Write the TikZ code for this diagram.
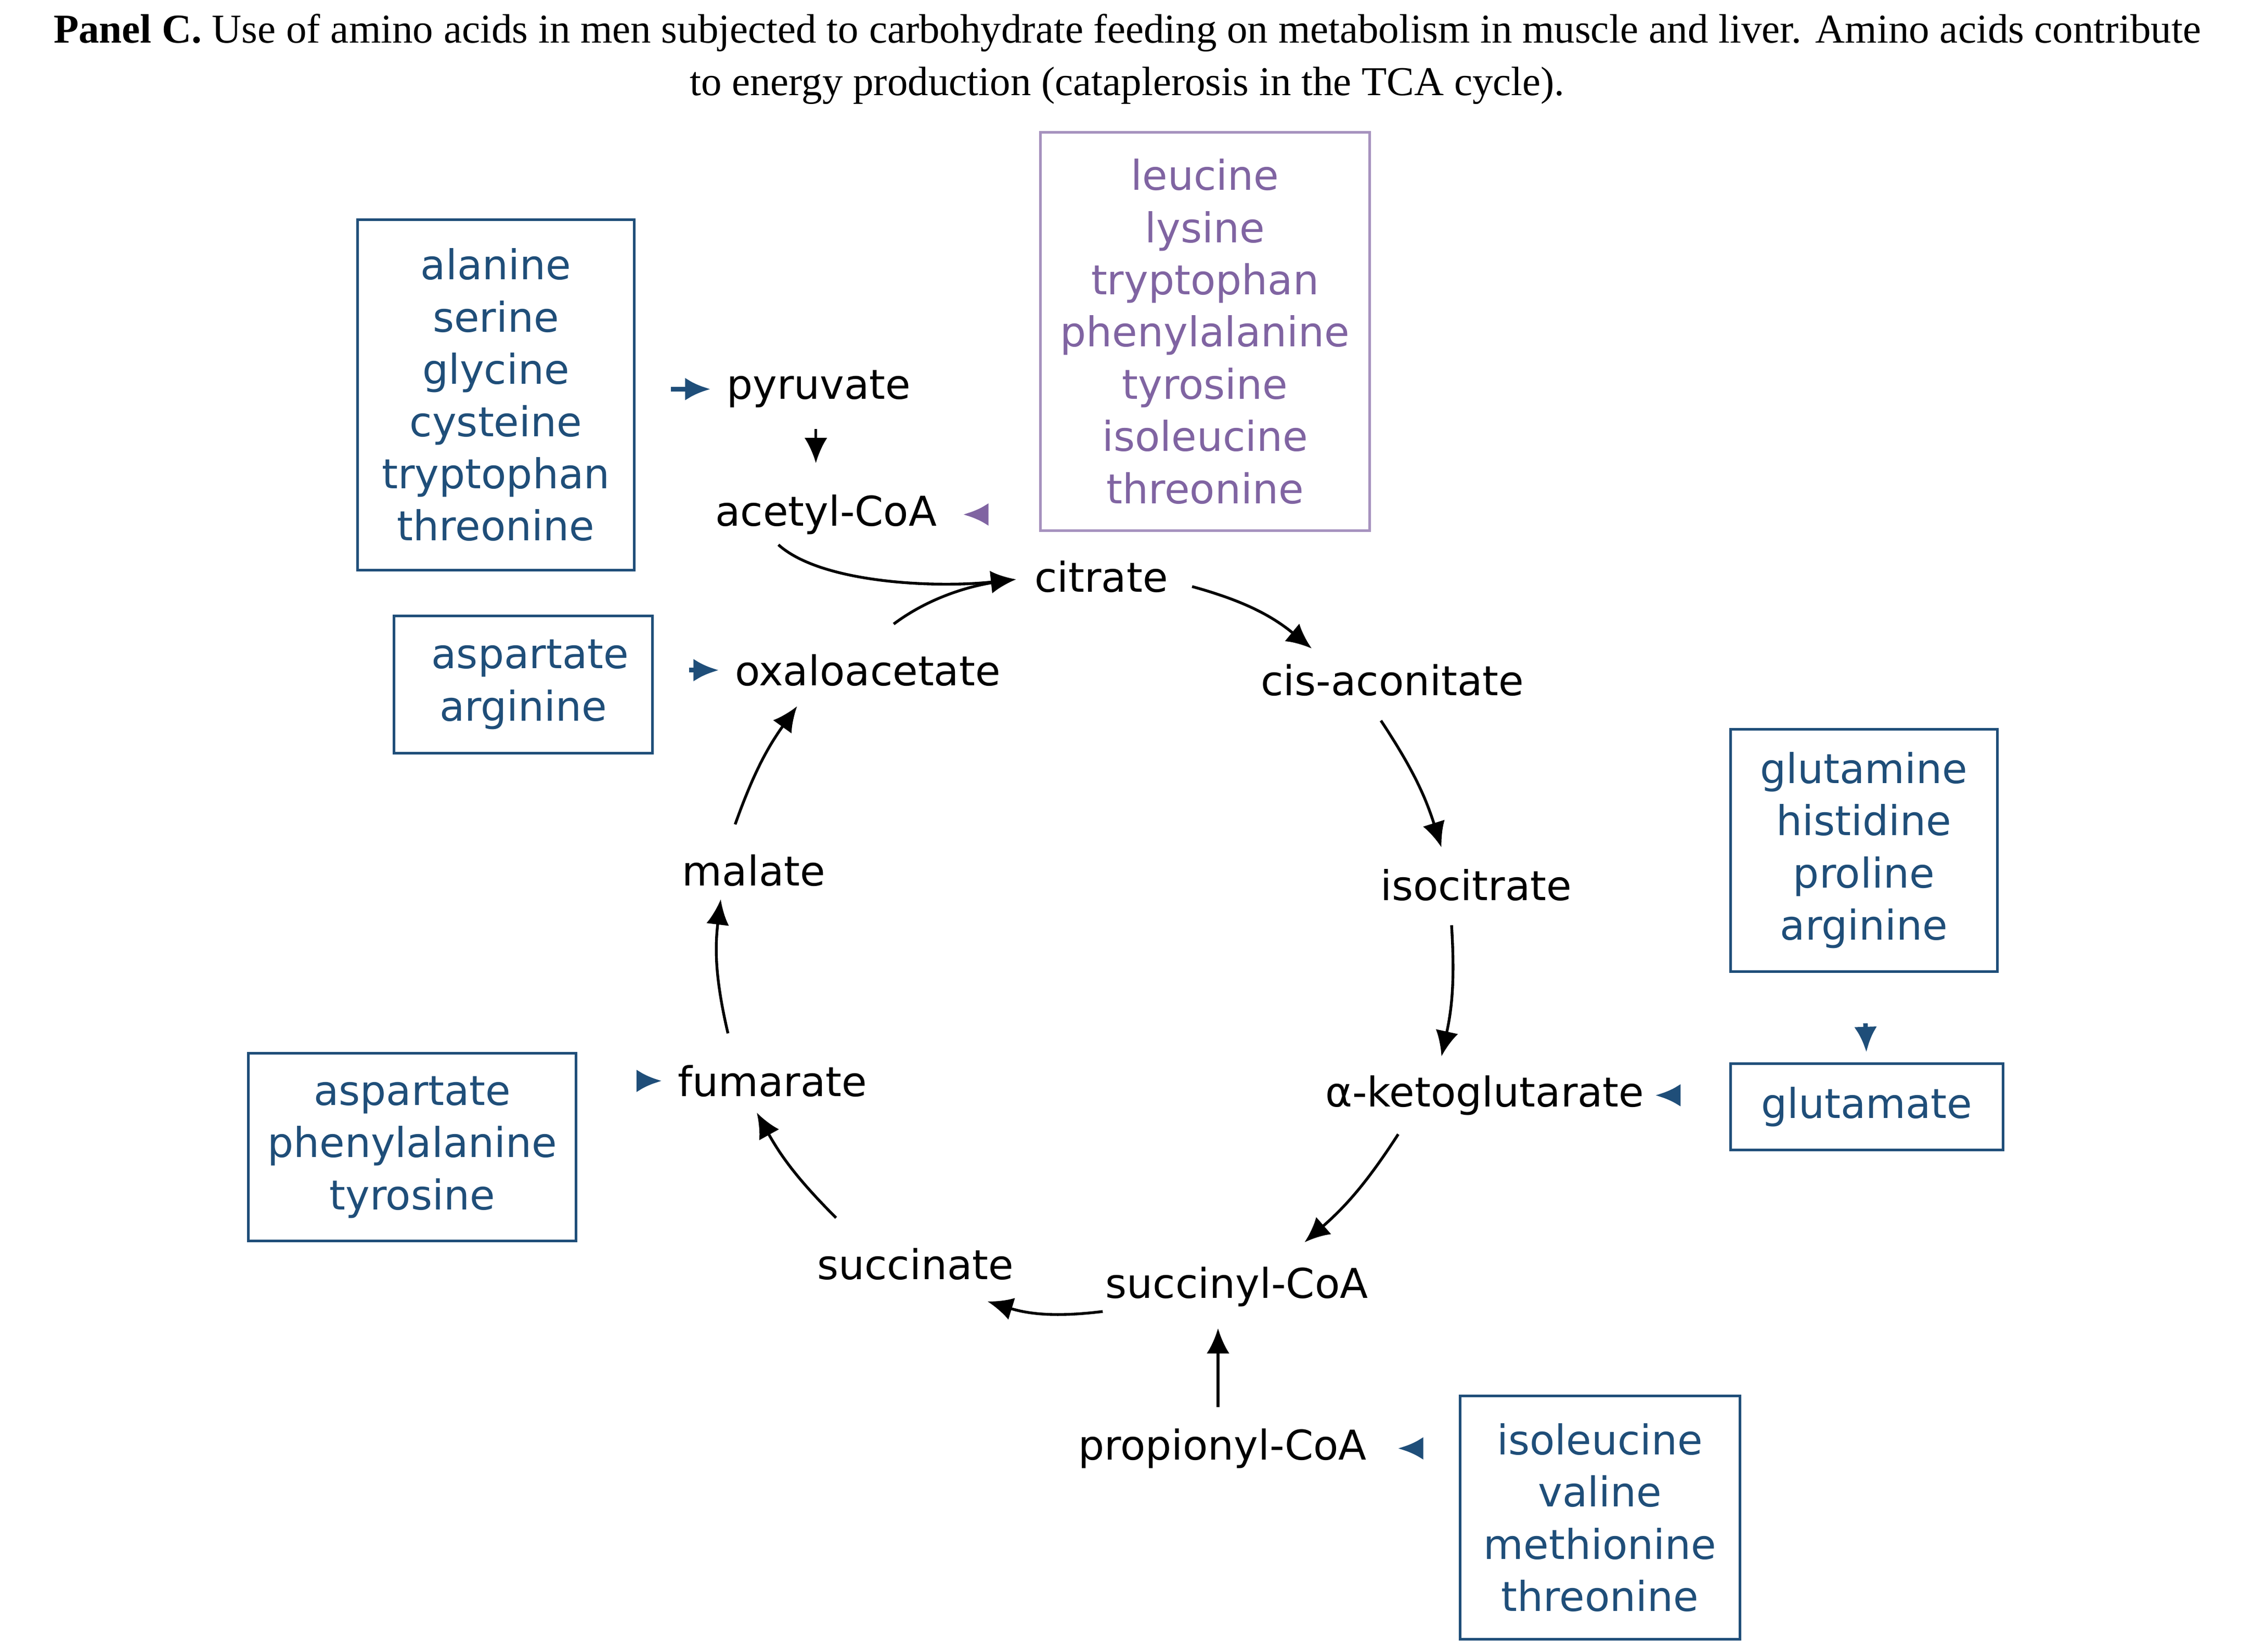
\documentclass[tikz,border=0pt]{standalone}
\usepackage{fontspec}
\setmainfont{DejaVu Sans}
\newfontfamily\titlefont{Liberation Serif}
\usetikzlibrary{arrows.meta}
\definecolor{bl}{HTML}{1F4E79}
\definecolor{pu}{HTML}{8064A2}
\begin{document}
\begin{tikzpicture}[x=0.01cm,y=-0.01cm,
 m/.style={font=\fontsize{8.1pt}{10pt}\selectfont, inner sep=1pt},
 bx/.style={draw=bl, text=bl, line width=0.5pt, align=center, inner sep=0pt, font=\fontsize{8.1pt}{10.3pt}\selectfont},
 ar/.style={-{Latex[length=5pt,width=4.5pt]}, line width=0.55pt},
 da/.style={ar, bl, dashed, dash pattern=on 3pt off 2pt, line width=0.9pt},
 dp/.style={da, pu}]
\useasboundingbox (0,0) rectangle (1563,1146);
\node[font=\titlefont\fontsize{8.1pt}{10.4pt}\selectfont, align=center] (t) at (782,41)
 {\textbf{Panel C.} Use of amino acids in men subjected to carbohydrate feeding on metabolism in muscle and liver. Amino acids contribute\\to energy production (cataplerosis in the TCA cycle).};
\node[m] (pyr) at (568,270) {pyruvate};
\node[m] (acc) at (573,357) {acetyl-CoA};
\node[m] (cit) at (764,400) {citrate};
\node[m] (cis) at (966,472) {cis-aconitate};
\node[m] (iso) at (1024,614) {isocitrate};
\node[m] (akg) at (1030,760) {α-ketoglutarate};
\node[m] (suc) at (858,893) {succinyl-CoA};
\node[m] (sct) at (635,877) {succinate};
\node[m] (fum) at (536,750) {fumarate};
\node[m] (mal) at (523,604) {malate};
\node[m] (oxa) at (602,465) {oxaloacetate};
\node[m] (pro) at (848,1005) {propionyl-CoA};
\node[bx, minimum width=1.92cm, minimum height=2.43cm] (b1) at (344,274) {alanine\\serine\\glycine\\cysteine\\tryptophan\\threonine};
\node[bx, draw=pu!70, text=pu, minimum width=2.28cm, minimum height=2.76cm] (b2) at (836,230) {leucine\\lysine\\tryptophan\\phenylalanine\\tyrosine\\isoleucine\\threonine};
\node[bx, minimum width=1.79cm, minimum height=0.95cm] (b3) at (363,475) {\,\,aspartate\\arginine};
\node[bx, minimum width=1.85cm, minimum height=1.68cm] (b4) at (1293,590) {glutamine\\histidine\\proline\\arginine};
\node[bx, minimum width=1.89cm, minimum height=0.6cm] (b5) at (1295,768) {glutamate};
\node[bx, minimum width=2.27cm, minimum height=1.3cm] (b6) at (286,796) {aspartate\\phenylalanine\\tyrosine};
\node[bx, minimum width=1.94cm, minimum height=1.69cm] (b7) at (1110,1053) {isoleucine\\valine\\methionine\\threonine};
% dashed inputs
\draw[da, shorten <=7pt, shorten >=2pt] (b1.east |- pyr) -- (pyr.west);
\draw[dp, shorten <=12pt, shorten >=4pt] (b2.west |- acc) -- (acc.east);
\draw[da, shorten <=7pt, shorten >=2pt] (b3.east |- oxa) -- (oxa.west);
\draw[da, shorten <=12pt, shorten >=2pt] (b6.east |- fum) -- (fum.west);
\draw[da, shorten <=12pt, shorten >=1pt] (b5.west |- akg) -- (akg.east);
\draw[da, shorten <=10pt, shorten >=2pt] (b4.south) -- (b5.north);
\draw[da, shorten <=8pt, shorten >=5pt] (b7.west |- pro) -- (pro.east);
% solid
\draw[ar, shorten <=3pt, shorten >=5pt] (pyr.south -| 566,0) -- (acc.north -| 566,0);
\draw[ar, shorten <=3pt, shorten >=3pt] (pro.north -| 845,0) -- (suc.south -| 845,0);
\coordinate (c1) at (540,378);
\coordinate (c2) at (705,402);
\draw[ar] (c1) .. controls (570,405) and (650,408) .. (c2);
\coordinate (o1) at (620,433);
\draw[line width=0.55pt] (o1) .. controls (640,418) and (665,408) .. (690,404);
\coordinate (a1) at (827,407); \coordinate (a2) at (910,450);
\draw[ar] (a1) to[bend left=12] (a2);
\coordinate (a3) at (958,500); \coordinate (a4) at (1000,588);
\draw[ar] (a3) to[bend left=8] (a4);
\coordinate (a5) at (1007,642); \coordinate (a6) at (1000,733);
\draw[ar] (a5) to[bend left=8] (a6);
\coordinate (a7) at (970,787); \coordinate (a8) at (905,862);
\draw[ar] (a7) to[bend left=8] (a8);
\coordinate (a9) at (765,910); \coordinate (a10) at (685,903);
\draw[ar] (a9) to[bend left=12] (a10);
\coordinate (a11) at (580,845); \coordinate (a12) at (525,772);
\draw[ar] (a11) to[bend left=8] (a12);
\coordinate (a13) at (505,717); \coordinate (a14) at (500,624);
\draw[ar] (a13) to[bend left=10] (a14);
\coordinate (a15) at (510,572); \coordinate (a16) at (553,490);
\draw[ar] (a15) to[bend left=8] (a16);
\end{tikzpicture}
\end{document}
